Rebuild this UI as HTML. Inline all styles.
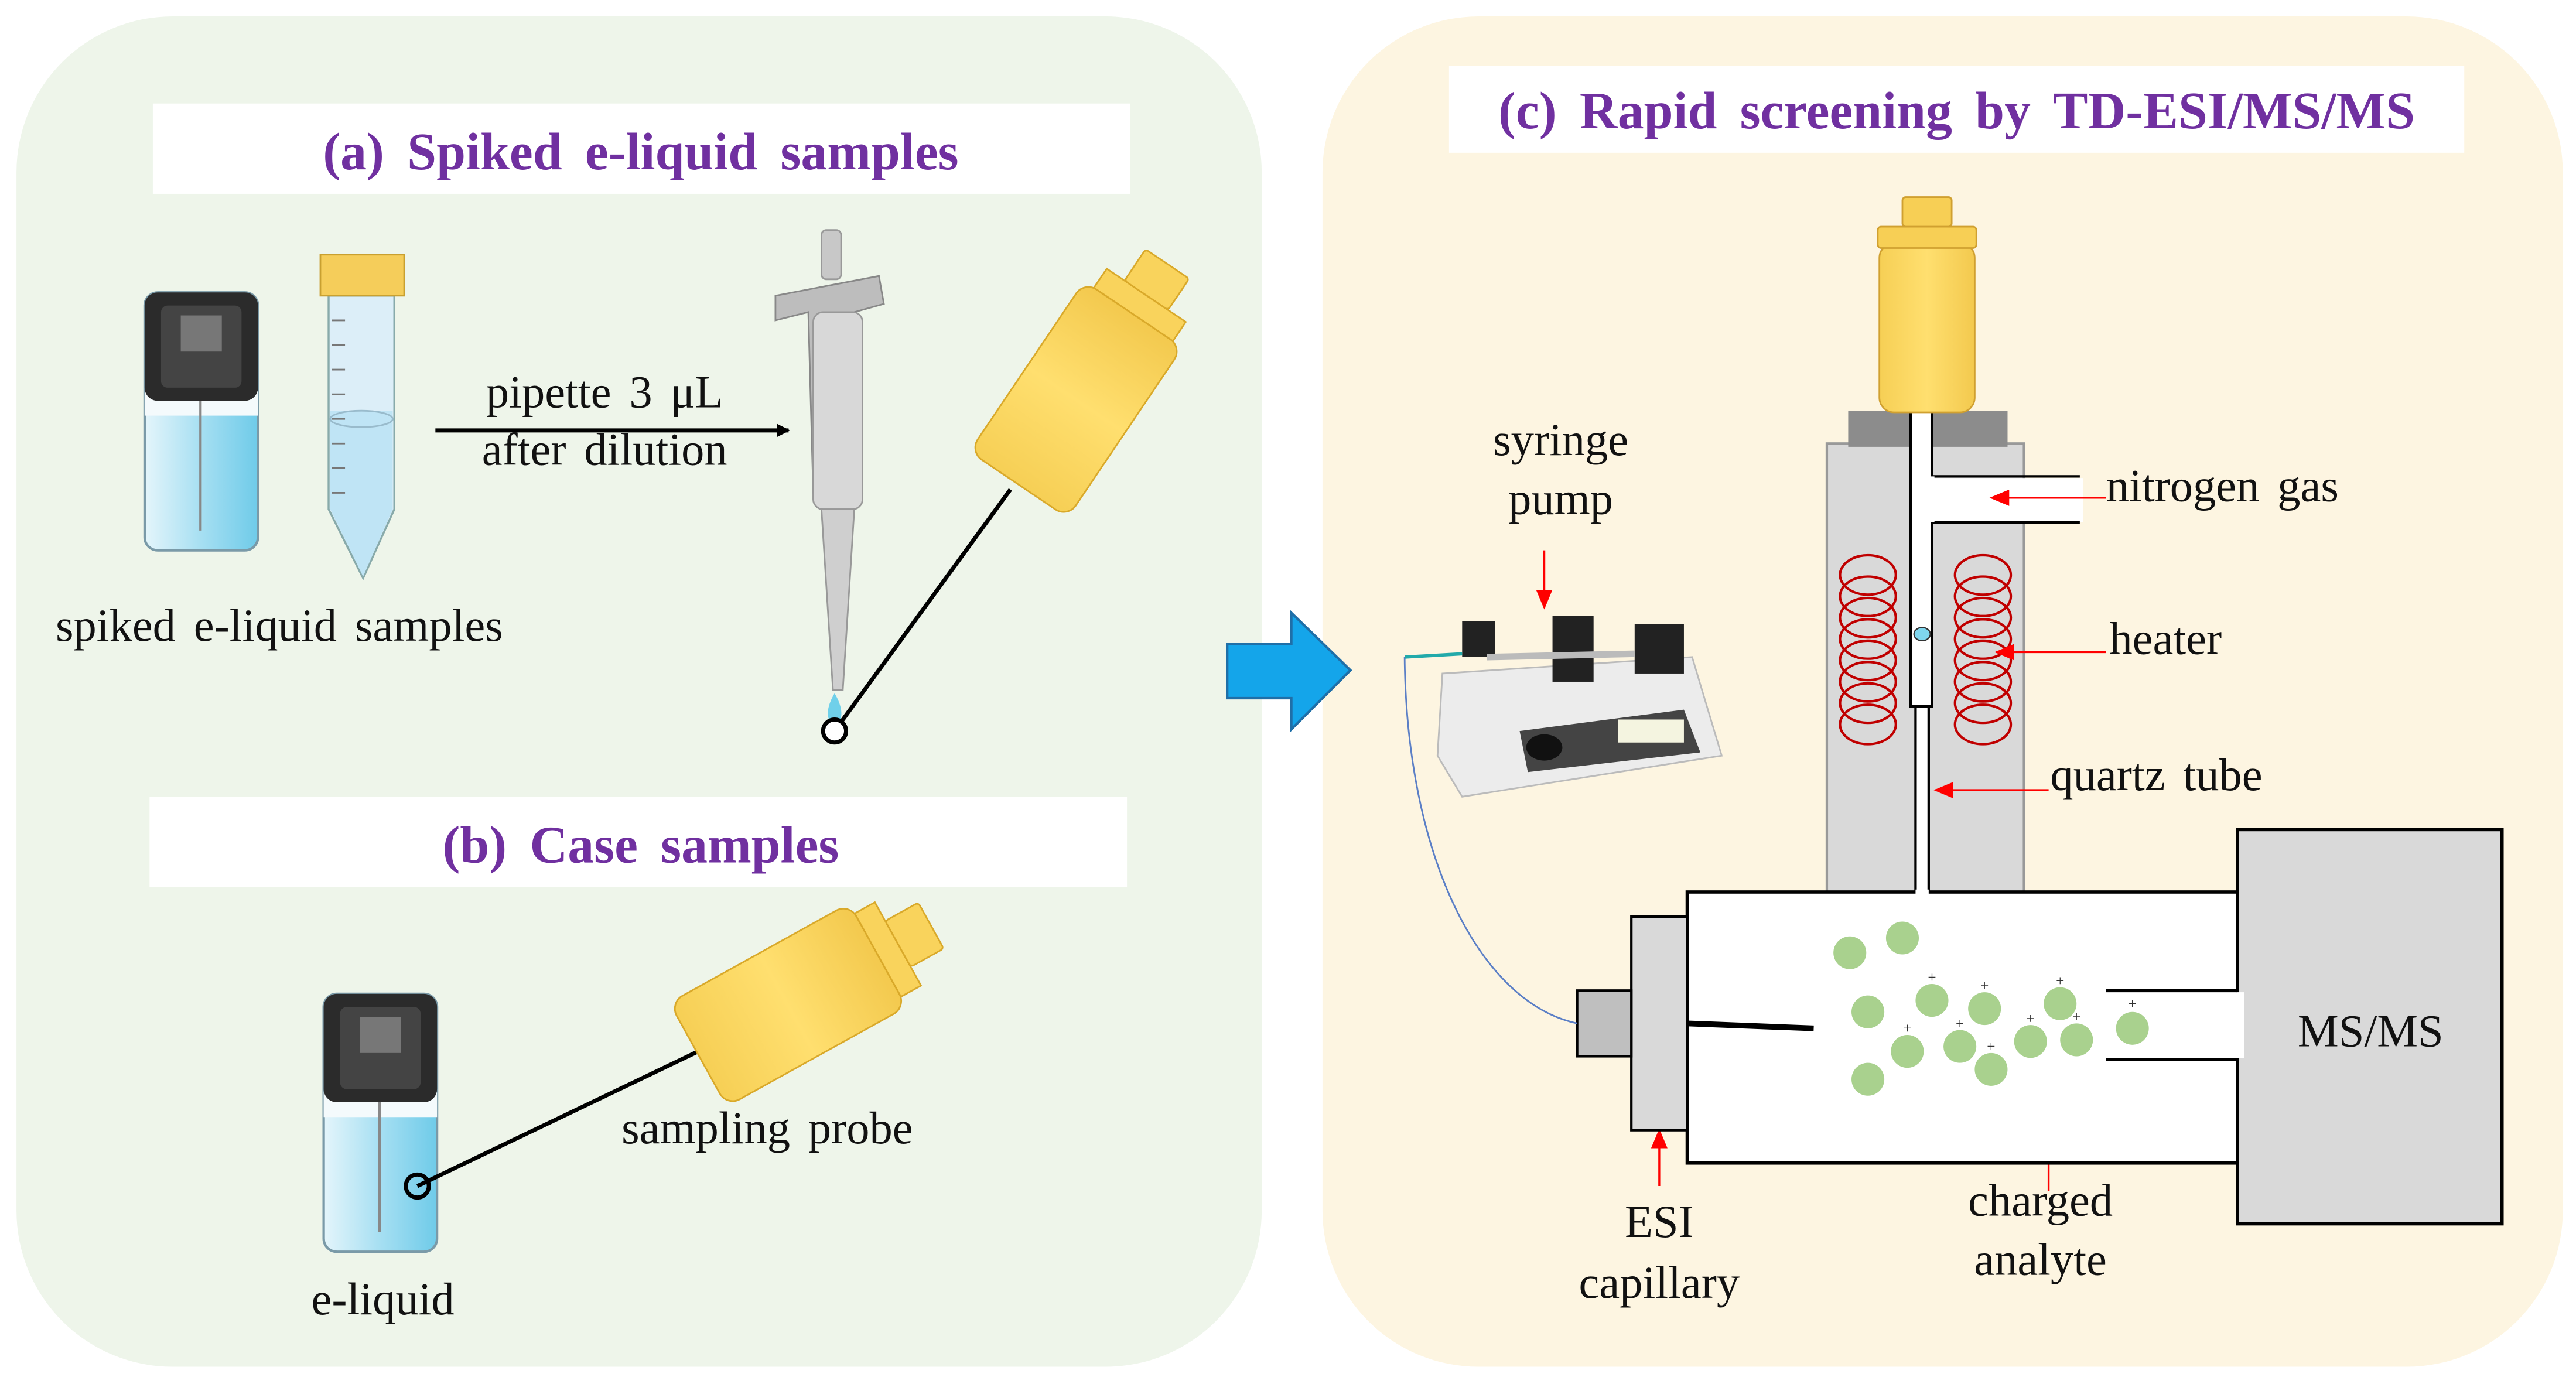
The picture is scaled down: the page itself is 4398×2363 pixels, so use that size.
<!DOCTYPE html>
<html><head><meta charset="utf-8"><style>
html,body{margin:0;padding:0;background:#fff;}
svg{display:block;}
text{font-family:"Liberation Serif","Times New Roman",serif;}
.t{font-size:28px;fill:#111;word-spacing:4px;}
.h{font-size:32px;font-weight:bold;fill:#7030a0;word-spacing:6px;}
</style></head><body>
<svg width="4398" height="2363" viewBox="0 0 1568 842.5" xmlns="http://www.w3.org/2000/svg">
<defs>
<linearGradient id="liq" x1="0" x2="1"><stop offset="0" stop-color="#e4f5fb"/><stop offset="0.5" stop-color="#a6dff2"/><stop offset="1" stop-color="#6fcbe9"/></linearGradient>
<linearGradient id="yel" x1="0" x2="1"><stop offset="0" stop-color="#f6cf55"/><stop offset="0.5" stop-color="#ffdf6f"/><stop offset="1" stop-color="#f3c94e"/></linearGradient>
<marker id="ar" markerWidth="8" markerHeight="8" refX="7" refY="4" orient="auto" markerUnits="userSpaceOnUse"><path d="M0,0 L8,4 L0,8z" fill="#000"/></marker>
<marker id="rr" markerWidth="12" markerHeight="10" refX="11" refY="5" orient="auto" markerUnits="userSpaceOnUse"><path d="M0,0 L12,5 L0,10z" fill="#ff0000"/></marker>
<g id="vial">
<rect x="0" y="0" width="69" height="157" rx="8" fill="url(#liq)" stroke="#7a9aa8" stroke-width="1.5"/>
<rect x="0" y="60" width="69" height="15" fill="#f4fafc"/>
<rect x="0" y="0" width="69" height="66" rx="8" fill="#2b2b2b"/>
<rect x="10" y="8" width="49" height="50" rx="4" fill="#444"/>
<rect x="22" y="14" width="25" height="22" fill="#777"/>
<line x1="34" y1="66" x2="34" y2="145" stroke="#888" stroke-width="1.5"/>
</g>
<g id="bottle">
<rect x="0" y="-36" width="125" height="72" rx="9" fill="url(#yel)" stroke="#d9a92a" stroke-width="1"/>
<rect x="125" y="-29" width="14" height="58" fill="#f9d35c" stroke="#d9a92a" stroke-width="1"/>
<rect x="139" y="-16" width="23" height="32" rx="2" fill="#f9d35c" stroke="#d9a92a" stroke-width="1"/>
</g>
</defs>
<rect width="1568" height="842.5" fill="#fff"/>
<rect x="10" y="10" width="758" height="822" rx="95" fill="#eef5ea"/>
<rect x="805" y="10" width="755" height="822" rx="95" fill="#fdf5e1"/>
<rect x="93" y="63" width="595" height="55" fill="#fff"/>
<text class="h" x="390" y="103" text-anchor="middle">(a) Spiked e-liquid samples</text>
<rect x="91" y="485" width="595" height="55" fill="#fff"/>
<text class="h" x="390" y="525" text-anchor="middle">(b) Case samples</text>
<rect x="882" y="40" width="618" height="53" fill="#fff"/>
<text class="h" x="1191" y="78" text-anchor="middle">(c) Rapid screening by TD-ESI/MS/MS</text>

<!-- panel a -->
<use href="#vial" x="88" y="178"/>
<path d="M200,180 L240,180 L240,310 L221,352 L200,310 Z" fill="#dceef8" stroke="#8aa" stroke-width="1.2"/>
<path d="M201,250 L239,250 L239,310 L221,351 L201,310 Z" fill="#bfe4f5"/>
<ellipse cx="220" cy="255" rx="19" ry="5" fill="none" stroke="#9bc" stroke-width="1"/>
<g stroke="#777" stroke-width="1">
<line x1="202" y1="195" x2="210" y2="195"/><line x1="202" y1="210" x2="210" y2="210"/><line x1="202" y1="225" x2="210" y2="225"/><line x1="202" y1="240" x2="210" y2="240"/><line x1="202" y1="255" x2="210" y2="255"/><line x1="202" y1="270" x2="210" y2="270"/><line x1="202" y1="285" x2="210" y2="285"/><line x1="202" y1="300" x2="210" y2="300"/></g>
<rect x="195" y="155" width="51" height="25" fill="#f5cd5a" stroke="#c9a030" stroke-width="1"/>
<text class="t" x="170" y="390" text-anchor="middle">spiked e-liquid samples</text>
<line x1="265" y1="262" x2="480" y2="262" stroke="#000" stroke-width="2.5" marker-end="url(#ar)"/>
<text class="t" x="368" y="248" text-anchor="middle">pipette 3 μL</text>
<text class="t" x="368" y="283" text-anchor="middle">after dilution</text>
<!-- pipette -->
<rect x="500" y="140" width="12" height="30" rx="3" fill="#c8c8c8" stroke="#999"/>
<path d="M472,180 L535,168 L538,185 L520,190 L525,300 L495,300 L492,190 L472,195 Z" fill="#bdbdbd" stroke="#888"/>
<rect x="495" y="190" width="30" height="120" rx="6" fill="#d8d8d8" stroke="#999"/>
<path d="M500,310 L520,310 L513,420 L507,420 Z" fill="#cfcfcf" stroke="#999"/>
<path d="M508,422 C502,432 503,440 508,440 C513,440 514,432 508,422Z" fill="#6fd0ea"/>
<line x1="615" y1="298" x2="508" y2="445" stroke="#000" stroke-width="2.5"/>
<circle cx="508" cy="445" r="7" fill="#fff" stroke="#000" stroke-width="2.5"/>
<use href="#bottle" transform="translate(620,295) rotate(-56)"/>

<!-- panel b -->
<use href="#vial" x="197" y="605"/>
<line x1="254" y1="722" x2="425" y2="640" stroke="#000" stroke-width="2.5"/>
<circle cx="254" cy="722" r="7" fill="none" stroke="#000" stroke-width="2.5"/>
<use href="#bottle" transform="translate(425,642) rotate(-29)"/>
<text class="t" x="467" y="696" text-anchor="middle">sampling probe</text>
<text class="t" x="233" y="800" text-anchor="middle">e-liquid</text>

<!-- blue arrow -->
<path d="M747,392 L786,392 L786,373 L822,408 L786,444 L786,425 L747,425 Z" fill="#14a5ea" stroke="#1f6fa8" stroke-width="1.5"/>

<!-- panel c -->
<rect x="1112" y="270" width="120" height="273" fill="#d9d9d9" stroke="#999" stroke-width="1.5"/>
<rect x="1125" y="250" width="97" height="22" fill="#8c8c8c"/>
<rect x="1163" y="250" width="13" height="180" fill="#fff" stroke="#000" stroke-width="1.5"/>
<rect x="1176" y="291" width="92" height="27" fill="#fff"/>
<line x1="1176" y1="290" x2="1266" y2="290" stroke="#000" stroke-width="1.5"/>
<line x1="1176" y1="318" x2="1266" y2="318" stroke="#000" stroke-width="1.5"/>
<line x1="1176" y1="290" x2="1176" y2="318" stroke="#fff" stroke-width="3"/>
<rect x="1166" y="430" width="8" height="130" fill="#fff" stroke="#000" stroke-width="1.5"/>
<ellipse cx="1170" cy="386" rx="5" ry="4" fill="#7fd6ee" stroke="#333" stroke-width="0.8"/>
<g fill="none" stroke="#c00000" stroke-width="1.5">
<ellipse cx="1137" cy="350" rx="17" ry="12"/><ellipse cx="1137" cy="363" rx="17" ry="12"/><ellipse cx="1137" cy="376" rx="17" ry="12"/><ellipse cx="1137" cy="389" rx="17" ry="12"/><ellipse cx="1137" cy="402" rx="17" ry="12"/><ellipse cx="1137" cy="415" rx="17" ry="12"/><ellipse cx="1137" cy="428" rx="17" ry="12"/><ellipse cx="1137" cy="441" rx="17" ry="12"/>
<ellipse cx="1207" cy="350" rx="17" ry="12"/><ellipse cx="1207" cy="363" rx="17" ry="12"/><ellipse cx="1207" cy="376" rx="17" ry="12"/><ellipse cx="1207" cy="389" rx="17" ry="12"/><ellipse cx="1207" cy="402" rx="17" ry="12"/><ellipse cx="1207" cy="415" rx="17" ry="12"/><ellipse cx="1207" cy="428" rx="17" ry="12"/><ellipse cx="1207" cy="441" rx="17" ry="12"/>
</g>
<!-- bottle top -->
<rect x="1144" y="148" width="58" height="103" rx="9" fill="url(#yel)" stroke="#d0a030" stroke-width="1"/>
<rect x="1143" y="138" width="60" height="13" rx="2" fill="#f7cf55" stroke="#d0a030" stroke-width="1"/>
<rect x="1158" y="120" width="30" height="18" rx="2" fill="#f7cf55" stroke="#d0a030" stroke-width="1"/>
<!-- red arrows -->
<g stroke="#ff0000" stroke-width="1.2">
<line x1="1282" y1="303" x2="1212" y2="303" marker-end="url(#rr)"/>
<line x1="1282" y1="397" x2="1215" y2="397" marker-end="url(#rr)"/>
<line x1="1247" y1="481" x2="1178" y2="481" marker-end="url(#rr)"/>
<line x1="940" y1="335" x2="940" y2="370" marker-end="url(#rr)"/>
<line x1="1010" y1="722" x2="1010" y2="688" marker-end="url(#rr)"/>
<line x1="1247" y1="725" x2="1247" y2="660" marker-end="url(#rr)"/>
</g>
<text class="t" x="1282" y="305">nitrogen gas</text>
<text class="t" x="1284" y="398">heater</text>
<text class="t" x="1248" y="481">quartz tube</text>
<!-- chamber -->
<rect x="1027" y="543" width="336" height="165" fill="#fff" stroke="#000" stroke-width="2"/>
<rect x="1362" y="505" width="161" height="240" fill="#d9d9d9" stroke="#000" stroke-width="2"/>
<rect x="1282" y="604" width="84" height="40" fill="#fff"/>
<line x1="1282" y1="603" x2="1362" y2="603" stroke="#000" stroke-width="2"/>
<line x1="1282" y1="645" x2="1362" y2="645" stroke="#000" stroke-width="2"/>
<line x1="1166" y1="543" x2="1174" y2="543" stroke="#fff" stroke-width="3"/>
<text class="t" x="1443" y="637" text-anchor="middle">MS/MS</text>
<rect x="993" y="558" width="34" height="130" fill="#d9d9d9" stroke="#000" stroke-width="1.5"/>
<rect x="960" y="603" width="33" height="40" fill="#bfbfbf" stroke="#000" stroke-width="1.5"/>
<line x1="1027" y1="623" x2="1104" y2="626" stroke="#000" stroke-width="3.5"/>
<path d="M855,400 C856,520 900,610 960,623" fill="none" stroke="#5b7fc6" stroke-width="1"/>
<g fill="#a9d18e">
<circle cx="1126" cy="580" r="10"/><circle cx="1158" cy="571" r="10"/><circle cx="1137" cy="616" r="10"/><circle cx="1176" cy="609" r="10"/><circle cx="1208" cy="614" r="10"/><circle cx="1254" cy="611" r="10"/><circle cx="1161" cy="640" r="10"/><circle cx="1193" cy="637" r="10"/><circle cx="1236" cy="634" r="10"/><circle cx="1264" cy="633" r="10"/><circle cx="1212" cy="651" r="10"/><circle cx="1137" cy="657" r="10"/><circle cx="1298" cy="626" r="10"/>
</g>
<g font-size="9" fill="#333" text-anchor="middle">
<text x="1176" y="598">+</text><text x="1208" y="603">+</text><text x="1254" y="600">+</text><text x="1161" y="629">+</text><text x="1193" y="626">+</text><text x="1236" y="623">+</text><text x="1264" y="622">+</text><text x="1212" y="640">+</text><text x="1298" y="614">+</text>
</g>
<text class="t" x="1010" y="753" text-anchor="middle">ESI</text>
<text class="t" x="1010" y="790" text-anchor="middle">capillary</text>
<text class="t" x="1242" y="740" text-anchor="middle">charged</text>
<text class="t" x="1242" y="776" text-anchor="middle">analyte</text>
<text class="t" x="950" y="277" text-anchor="middle">syringe</text>
<text class="t" x="950" y="313" text-anchor="middle">pump</text>
<!-- syringe pump -->
<path d="M878,410 L1030,400 L1048,460 L890,485 L875,460 Z" fill="#ececec" stroke="#bbb"/>
<path d="M925,445 L1025,432 L1035,458 L930,470 Z" fill="#444"/>
<rect x="985" y="438" width="40" height="14" fill="#f4f4e0"/>
<ellipse cx="940" cy="455" rx="11" ry="8" fill="#111"/>
<rect x="890" y="378" width="20" height="22" fill="#222"/>
<rect x="945" y="375" width="25" height="40" fill="#222"/>
<rect x="995" y="380" width="30" height="30" fill="#222"/>
<line x1="905" y1="400" x2="995" y2="398" stroke="#bbb" stroke-width="4"/>
<line x1="855" y1="400" x2="890" y2="398" stroke="#2aa" stroke-width="2"/>
</svg>
</body></html>
